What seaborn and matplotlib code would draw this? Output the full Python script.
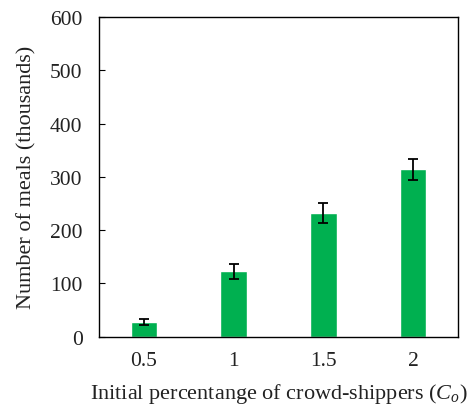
import numpy as np
import pandas as pd
import matplotlib
matplotlib.use("Agg")
import matplotlib.pyplot as plt
import seaborn as sns

# data
categories = ["0.5", "1", "1.5", "2"]
meals = [28, 123, 232, 314]
meals_err = [5, 14, 18, 20]

sns.set_style("white")
plt.rcParams["font.family"] = ["Liberation Serif", "DejaVu Serif"]
plt.rcParams["mathtext.fontset"] = "custom"
plt.rcParams["mathtext.it"] = "Liberation Serif:italic"
plt.rcParams["mathtext.rm"] = "Liberation Serif"

df = pd.DataFrame({"share": categories, "meals": meals})

fig, ax = plt.subplots(figsize=(4.7, 4.06), dpi=100)

sns.barplot(data=df, x="share", y="meals", color="#00B050", saturation=1,
            width=0.3, errorbar=None, ax=ax)
ax.errorbar(np.arange(len(categories)), meals, yerr=meals_err, fmt="none",
            ecolor="black", elinewidth=1.3, capsize=3.5, capthick=1.3)

ax.set_ylim(0, 600)
ax.set_xlim(-0.5, len(categories) - 0.5)
ax.set_yticks(range(0, 601, 100))
ax.tick_params(axis="y", direction="in", length=4, labelsize=15.5, left=True,
               pad=12, colors="black", labelcolor="#222222")
ax.tick_params(axis="x", length=0, labelsize=15.5, pad=10,
               labelcolor="#222222")

for side in ax.spines.values():
    side.set_color("black")
    side.set_linewidth(1.0)

ax.set_ylabel("Number of meals (thousands)", fontsize=16, labelpad=10,
              color="#222222")
ax.set_xlabel("Initial percentange of crowd-shippers ($C_o$)", fontsize=16,
              labelpad=8, color="#222222")

fig.subplots_adjust(left=0.211, right=0.974, top=0.956, bottom=0.168)
fig.savefig("out.png", dpi=100)
